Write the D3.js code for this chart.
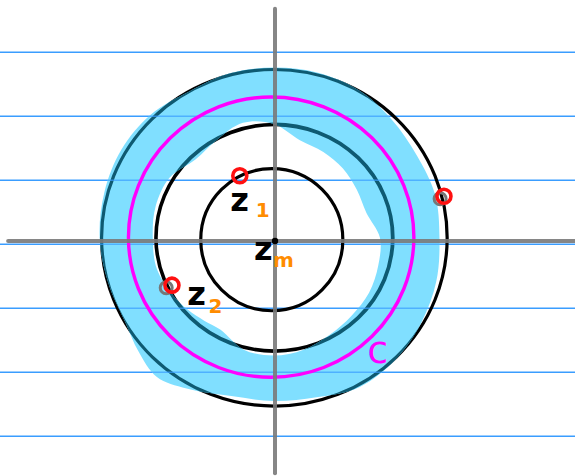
<!DOCTYPE html>
<html>
<head>
<meta charset="utf-8">
<script src="https://cdn.jsdelivr.net/npm/d3@7"></script>
<style>
  html, body { margin: 0; padding: 0; background: #fff; }
  svg { display: block; }
</style>
</head>
<body>
<svg id="chart" width="575" height="476"></svg>
<script>
// ---- data (units: one ruling step) ----
const rulingLines = [2.95, 1.95, 0.95, -0.05, -1.05, -2.05, -3.05];
const axisX = [-4.17, 4.72];
const axisY = [-3.63, 3.63];

// circles
const circleNames = ["small", "inner", "magenta", "outer"];
const circleCx = [-0.05, -0.01, -0.06, -0.01];
const circleCy = [0.02, 0.05, 0.06, 0.05];
const circleRx = [1.11, 1.85, 2.23, 2.70];
const circleRy = [1.11, 1.77, 2.19, 2.63];

// highlighted band
const bandCenter = [-0.02, 0.05];
const bandAngles = [0, 15, 30, 45, 60, 75, 90, 105, 120, 135, 150, 165, 180, 195, 210, 220, 230, 240, 255, 270, 285, 300, 315, 330, 345];
const bandInner = [1.66, 1.50, 1.50, 1.53, 1.55, 1.58, 1.78, 1.86, 1.77, 1.73, 1.88, 1.91, 1.89, 1.89, 1.81, 1.75, 1.69, 1.66, 1.81, 1.84, 1.81, 1.75, 1.72, 1.72, 1.69];
const bandOuter = [2.59, 2.61, 2.58, 2.61, 2.66, 2.67, 2.66, 2.66, 2.64, 2.72, 2.75, 2.74, 2.72, 2.68, 2.67, 2.76, 2.84, 2.72, 2.56, 2.55, 2.58, 2.69, 2.69, 2.66, 2.63];

// points
const redX = [-0.55, 2.64, -1.61];
const redY = [1.02, 0.70, -0.69];
const greyX = [2.58, -1.70];
const greyY = [0.66, -0.73];
const centerDot = [0, 0];

// labels
const mainText = ["z", "z", "z"];
const mainX = [-0.70, -0.33, -1.37];
const mainY = [0.47, -0.30, -1.0];
const subText = ["1", "m", "2"];
const subX = [-0.30, -0.03, -1.04];
const subY = [0.375, -0.41, -1.13];
const curveLabel = "c";
const curveLabelPos = [1.44, -1.91];

// ---- scales ----
const x = d3.scaleLinear().domain([0, 1]).range([275, 339]);
const y = d3.scaleLinear().domain([0, 1]).range([241, 177]);
const ux = v => x(v) - x(0);
const uy = v => y(0) - y(v);

const svg = d3.select("#chart");
svg.append("rect").attr("width", 575).attr("height", 476).attr("fill", "#fff");

// ruling lines
function drawRules(g, op) {
  g.selectAll("line").data(rulingLines).join("line")
    .attr("x1", 0).attr("x2", 575)
    .attr("y1", d => y(d)).attr("y2", d => y(d))
    .attr("stroke", "#3a9dff").attr("stroke-width", 1.6).attr("opacity", op);
}
drawRules(svg.append("g"), 1);

// black circles (under highlight)
const idx = [0, 1, 3];
svg.append("g").selectAll("ellipse").data(idx).join("ellipse")
  .attr("cx", i => x(circleCx[i])).attr("cy", i => y(circleCy[i]))
  .attr("rx", i => ux(circleRx[i])).attr("ry", i => uy(circleRy[i]))
  .attr("fill", "none").attr("stroke", "#000")
  .attr("stroke-width", i => i === 1 ? 3.6 : 3.2);

// highlight band
const toPts = radii => bandAngles.map((a, k) => {
  const t = a * Math.PI / 180;
  return [x(bandCenter[0] + radii[k] * Math.cos(t)), y(bandCenter[1] + radii[k] * Math.sin(t))];
});
const lineGen = d3.line().curve(d3.curveCatmullRomClosed.alpha(0.5));
const bandPath = lineGen(toPts(bandOuter)) + lineGen(toPts(bandInner).reverse());

svg.append("clipPath").attr("id", "bandClip")
  .append("path").attr("d", bandPath).attr("clip-rule", "evenodd");

svg.append("path").attr("d", bandPath)
  .attr("fill", "#80dfff").attr("fill-rule", "evenodd");

// circle strokes seen through the highlight
svg.append("g").attr("clip-path", "url(#bandClip)")
  .selectAll("ellipse").data([1, 3]).join("ellipse")
  .attr("cx", i => x(circleCx[i])).attr("cy", i => y(circleCy[i]))
  .attr("rx", i => ux(circleRx[i])).attr("ry", i => uy(circleRy[i]))
  .attr("fill", "none").attr("stroke", "#0e5a72")
  .attr("stroke-width", i => i === 1 ? 3.8 : 3.2);

// ruling through highlight
drawRules(svg.append("g").attr("clip-path", "url(#bandClip)"), 0.7);

// magenta circle
svg.append("ellipse")
  .attr("cx", x(circleCx[2])).attr("cy", y(circleCy[2]))
  .attr("rx", ux(circleRx[2])).attr("ry", uy(circleRy[2]))
  .attr("fill", "none").attr("stroke", "#ff00ff").attr("stroke-width", 3.4);

// axes
const axes = svg.append("g").attr("stroke", "#7a7a7a").attr("stroke-width", 4)
  .attr("stroke-linecap", "round").attr("opacity", 0.9);
axes.append("line").attr("x1", x(axisX[0])).attr("x2", x(axisX[1]))
  .attr("y1", y(0)).attr("y2", y(0));
axes.append("line").attr("x1", x(0)).attr("x2", x(0))
  .attr("y1", y(axisY[0])).attr("y2", y(axisY[1]));

// grey marks
svg.append("g").selectAll("circle").data(greyX).join("circle")
  .attr("cx", (d, i) => x(d)).attr("cy", (d, i) => y(greyY[i])).attr("r", 6)
  .attr("fill", "none").attr("stroke", "#777").attr("stroke-width", 3);
// red marks
svg.append("g").selectAll("circle").data(redX).join("circle")
  .attr("cx", (d, i) => x(d)).attr("cy", (d, i) => y(redY[i])).attr("r", 7)
  .attr("fill", "none").attr("stroke", "#ff1010").attr("stroke-width", 3.6);

// centre dot
svg.append("circle").attr("cx", x(centerDot[0])).attr("cy", y(centerDot[1]))
  .attr("r", 3.2).attr("fill", "#000");

// labels
svg.append("g").selectAll("text").data(mainText).join("text")
  .attr("x", (d, i) => x(mainX[i])).attr("y", (d, i) => y(mainY[i]))
  .attr("font-family", "DejaVu Sans, sans-serif").attr("font-weight", "bold")
  .attr("font-size", 32).attr("fill", "#000").text(d => d);
svg.append("g").selectAll("text").data(subText).join("text")
  .attr("x", (d, i) => x(subX[i])).attr("y", (d, i) => y(subY[i]))
  .attr("font-family", "DejaVu Sans, sans-serif").attr("font-weight", "bold")
  .attr("font-size", 20).attr("fill", "#ff8c00").text(d => d);
svg.append("text").attr("x", x(curveLabelPos[0])).attr("y", y(curveLabelPos[1]))
  .attr("font-family", "DejaVu Sans, sans-serif")
  .attr("font-size", 38).attr("fill", "#ff00ff").text(curveLabel);
</script>
</body>
</html>
